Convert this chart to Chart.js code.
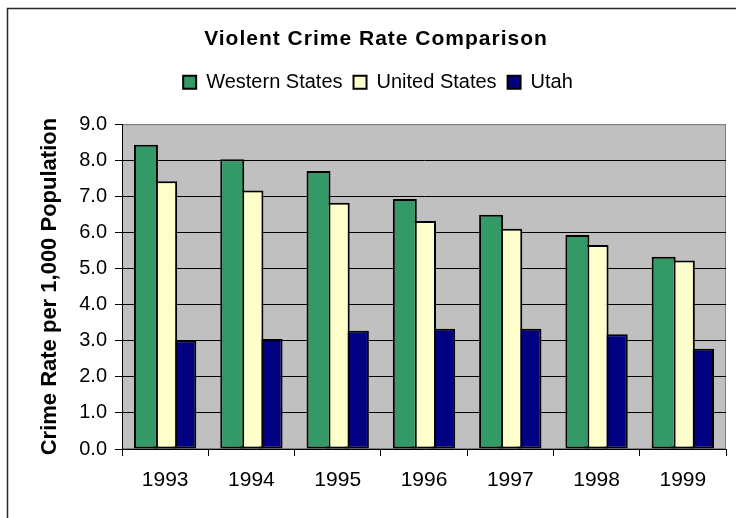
<!DOCTYPE html>
<html>
<head>
<meta charset="utf-8">
<script src="https://cdn.jsdelivr.net/npm/chart.js@4.4.1/dist/chart.umd.min.js"></script>
<style>
html,body{margin:0;padding:0;background:#fff;}
#wrap{width:736px;height:518px;position:relative;}
canvas{display:block;}
</style>
</head>
<body>
<div id="wrap"><canvas id="c" width="736" height="518"></canvas></div>
<script>
// ---- data ----
const years = ['1993', '1994', '1995', '1996', '1997', '1998', '1999'];
const westernStates = [8.43, 8.03, 7.70, 6.93, 6.49, 5.93, 5.33];
const unitedStates = [7.42, 7.16, 6.82, 6.32, 6.10, 5.65, 5.22];
const utah = [3.01, 3.05, 3.28, 3.33, 3.33, 3.18, 2.78];
const seriesNames = ['Western States', 'United States', 'Utah'];
const yMin = 0, yMax = 9, yStep = 1;

const FONT = "'Liberation Sans', Arial, sans-serif";

const framePlugin = {
  id: 'frame',
  beforeLayout(chart) {
    const lg = chart.legend;
    if (lg && !lg._patched) {
      const fit = lg.fit.bind(lg);
      lg.fit = function () { fit(); this.height = 63; };
      const draw = lg.draw.bind(lg);
      lg.draw = function () {
        const c = this.ctx; c.save(); c.translate(15, 0); draw(); c.restore();
      };
      lg._patched = true;
    }
    const tb = chart.titleBlock;
    if (tb && !tb._patched) {
      const draw = tb.draw.bind(tb);
      tb.draw = function () {
        const c = this.ctx; c.save(); c.translate(13, 0);
        try { c.letterSpacing = '1px'; } catch (e) {}
        draw(); c.restore();
      };
      tb._patched = true;
    }
  },
  beforeDraw(chart) {
    const { ctx, chartArea: a } = chart;
    ctx.save();
    ctx.fillStyle = '#ffffff';
    ctx.fillRect(0, 0, chart.width, chart.height);
    ctx.strokeStyle = '#2a2a2a';
    ctx.lineWidth = 1.5;
    ctx.beginPath();
    ctx.moveTo(7.5, chart.height);
    ctx.lineTo(7.5, 8.5);
    ctx.lineTo(chart.width, 8.5);
    ctx.stroke();
    ctx.fillStyle = '#C0C0C0';
    ctx.fillRect(a.left, a.top, a.right - a.left, a.bottom - a.top);
    ctx.strokeStyle = '#808080';
    ctx.lineWidth = 1;
    ctx.strokeRect(a.left + 0.5, a.top + 0.5, a.right - a.left - 1, a.bottom - a.top - 1);
    ctx.restore();
  }
};

const barCommon = {
  borderColor: '#000000',
  borderWidth: 2,
  borderSkipped: false,
  categoryPercentage: 0.667,
  barPercentage: 1.25
};

new Chart(document.getElementById('c'), {
  type: 'bar',
  data: {
    labels: years,
    datasets: [
      Object.assign({ label: seriesNames[0], data: westernStates, backgroundColor: '#339966' }, barCommon),
      Object.assign({ label: seriesNames[1], data: unitedStates, backgroundColor: '#FFFFCC' }, barCommon),
      Object.assign({ label: seriesNames[2], data: utah, backgroundColor: '#000080' }, barCommon)
    ]
  },
  options: {
    responsive: false,
    devicePixelRatio: 1,
    animation: false,
    layout: { padding: { top: 0, left: 0, right: 10, bottom: 0 } },
    plugins: {
      title: {
        display: true,
        text: 'Violent Crime Rate Comparison',
        color: '#000',
        font: { family: FONT, size: 21, weight: 'bold', lineHeight: 1.2 },
        padding: { top: 27, bottom: 9 }
      },
      legend: {
        display: true,
        position: 'top',
        labels: {
          color: '#000',
          font: { family: FONT, size: 20 },
          boxWidth: 13,
          boxHeight: 13,
          padding: 11
        }
      },
      tooltip: { enabled: false }
    },
    scales: {
      x: {
        offset: true,
        afterFit(s) { s.height = 69; },
        grid: { offset: true, drawOnChartArea: false, drawTicks: true, tickLength: 7, color: '#000', tickColor: '#000' },
        border: { display: true, color: '#000', width: 1 },
        ticks: { color: '#000', font: { family: FONT, size: 21 }, padding: 12, maxRotation: 0, autoSkip: false }
      },
      y: {
        min: yMin,
        max: yMax,
        afterFit(s) { s.width = 122; },
        ticks: {
          stepSize: yStep,
          color: '#000',
          font: { family: FONT, size: 20 },
          padding: 8,
          callback: v => Number(v).toFixed(1)
        },
        grid: {
          color: c => (c.tick && c.tick.value === yMax) ? '#808080' : '#000',
          tickColor: '#000',
          tickLength: 7,
          lineWidth: 1
        },
        border: { display: true, color: '#000', width: 1 },
        title: {
          display: true,
          text: 'Crime Rate per 1,000 Population',
          color: '#000',
          font: { family: FONT, size: 22, weight: 'bold', lineHeight: 1.2 },
          padding: { top: 37, bottom: 0 }
        }
      }
    }
  },
  plugins: [framePlugin]
});
</script>
</body>
</html>
